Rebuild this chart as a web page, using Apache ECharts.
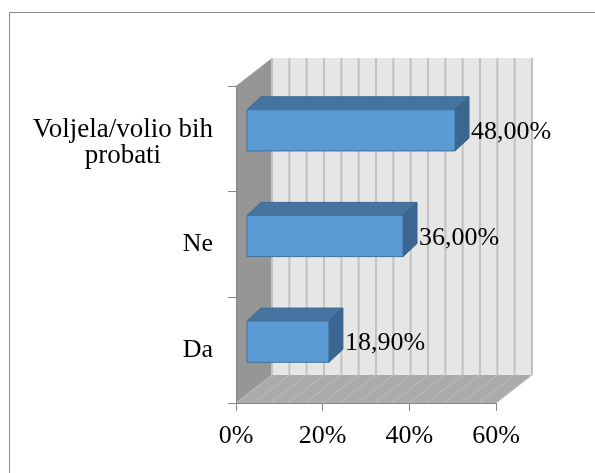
<!DOCTYPE html>
<html>
<head>
<meta charset="utf-8">
<script src="https://cdn.jsdelivr.net/npm/echarts@6/dist/echarts.min.js"></script>
<style>
  html, body { margin: 0; padding: 0; background: #fff; }
  #chart { width: 595px; height: 473px; }
</style>
</head>
<body>
<div id="chart"></div>
<script>
// data (bottom to top, like the source sheet)
const categories = ['Da', 'Ne', 'Voljela/volio bih\nprobati'];
const values = [18.9, 36, 48];
const xTicks = [0, 20, 40, 60];
const wallGridStep = 4;

// 3d look
const DEPTH_X = 36, DEPTH_Y = -28;     // walls / floor
const BAR_OFF_X = 11, BAR_OFF_Y = -8.5; // bar front face sits a bit inside
const BAR_DX = 14, BAR_DY = -13;        // bar depth
const FONT = 'Liberation Serif';

var chart = echarts.init(document.getElementById('chart'));

function renderWalls(params, api) {
    var cs = params.coordSys;
    var left = cs.x, right = cs.x + cs.width;
    var top = cs.y, bottom = cs.y + cs.height;
    var children = [];
    // back wall
    children.push({
        type: 'rect',
        shape: { x: left + DEPTH_X, y: top + DEPTH_Y, width: cs.width, height: cs.height },
        style: { fill: '#e6e6e6' }
    });
    // left wall
    children.push({
        type: 'polygon',
        shape: { points: [[left, top], [left + DEPTH_X, top + DEPTH_Y], [left + DEPTH_X, bottom + DEPTH_Y], [left, bottom]] },
        style: { fill: '#969696' }
    });
    // floor
    children.push({
        type: 'polygon',
        shape: { points: [[left, bottom], [left + DEPTH_X, bottom + DEPTH_Y], [right + DEPTH_X, bottom + DEPTH_Y], [right, bottom]] },
        style: { fill: '#ababab' }
    });
    var max = xTicks[xTicks.length - 1];
    for (var v = xTicks[0]; v <= max; v += wallGridStep) {
        var x = api.coord([v, 0])[0];
        children.push({
            type: 'line',
            shape: { x1: x + DEPTH_X, y1: top + DEPTH_Y, x2: x + DEPTH_X, y2: bottom + DEPTH_Y },
            style: { stroke: '#c2c2c2', lineWidth: 2 }
        });
        children.push({
            type: 'line',
            shape: { x1: x, y1: bottom, x2: x + DEPTH_X, y2: bottom + DEPTH_Y },
            style: { stroke: '#bebebe', lineWidth: 1 }
        });
    }
    return { type: 'group', children: children };
}

function renderBar(params, api) {
    var val = api.value(0);
    var cat = api.value(1);
    var base = api.coord([0, cat]);
    var end = api.coord([val, cat]);
    var bandH = api.size([0, 1])[1];
    var barH = bandH * 0.39;
    var x0 = base[0] + BAR_OFF_X, x1 = end[0] + BAR_OFF_X;
    var yc = base[1] + BAR_OFF_Y;
    var y0 = yc - barH / 2, y1 = yc + barH / 2;
    return {
        type: 'group',
        children: [
            {
                type: 'polygon',
                shape: { points: [[x0, y0], [x0 + BAR_DX, y0 + BAR_DY], [x1 + BAR_DX, y0 + BAR_DY], [x1, y0]] },
                style: { fill: '#44749f', stroke: '#3d6a94', lineWidth: 1 }
            },
            {
                type: 'polygon',
                shape: { points: [[x1, y0], [x1 + BAR_DX, y0 + BAR_DY], [x1 + BAR_DX, y1 + BAR_DY], [x1, y1]] },
                style: { fill: '#3a6690', stroke: '#36618a', lineWidth: 1 }
            },
            {
                type: 'rect',
                shape: { x: x0, y: y0, width: x1 - x0, height: barH },
                style: { fill: '#5b9bd5', stroke: '#41719c', lineWidth: 1 }
            },
            {
                type: 'text',
                style: {
                    x: x1 + BAR_DX + 2,
                    y: yc + 2,
                    text: val.toFixed(2).replace('.', ',') + '%',
                    fill: '#000',
                    fontSize: 26,
                    fontFamily: FONT,
                    align: 'left',
                    verticalAlign: 'middle'
                }
            }
        ]
    };
}

var option = {
    backgroundColor: '#fff',
    animation: false,
    graphic: [{
        type: 'rect',
        shape: { x: 9.5, y: 12.5, width: 700, height: 700 },
        style: { fill: 'none', stroke: '#898989', lineWidth: 1 },
        z: 100
    }],
    grid: { left: 236, right: 99, top: 86, bottom: 70 },
    xAxis: {
        type: 'value',
        min: xTicks[0],
        max: xTicks[xTicks.length - 1],
        interval: xTicks[1] - xTicks[0],
        z: 5,
        axisLine: { show: true, lineStyle: { color: '#888' } },
        axisTick: { show: true, length: 8, lineStyle: { color: '#888' } },
        splitLine: { show: false },
        axisLabel: {
            formatter: '{value}%',
            color: '#000',
            fontSize: 26,
            fontFamily: FONT,
            margin: 20
        }
    },
    yAxis: {
        type: 'category',
        data: categories,
        z: 5,
        axisLine: { show: true, lineStyle: { color: '#888' } },
        axisTick: { show: true, length: 8, lineStyle: { color: '#888' } },
        axisLabel: {
            margin: 23,
            formatter: function (v) {
                return v.indexOf('\n') >= 0 ? '{m|' + v + '}' : '{c|' + v + '}';
            },
            rich: {
                c: { align: 'center', fontSize: 26, lineHeight: 26, fontFamily: FONT, color: '#000' },
                m: { align: 'center', fontSize: 27, lineHeight: 26, fontFamily: FONT, color: '#000', padding: [8, 0, 0, 0] }
            }
        }
    },
    series: [
        {
            type: 'custom',
            name: 'walls',
            z: 1,
            silent: true,
            data: [[0, 0]],
            renderItem: renderWalls
        },
        {
            type: 'custom',
            name: 'bars',
            z: 2,
            data: values.map(function (v, i) { return [v, i]; }),
            encode: { x: 0, y: 1 },
            renderItem: renderBar
        }
    ]
};

chart.setOption(option);
</script>
</body>
</html>
